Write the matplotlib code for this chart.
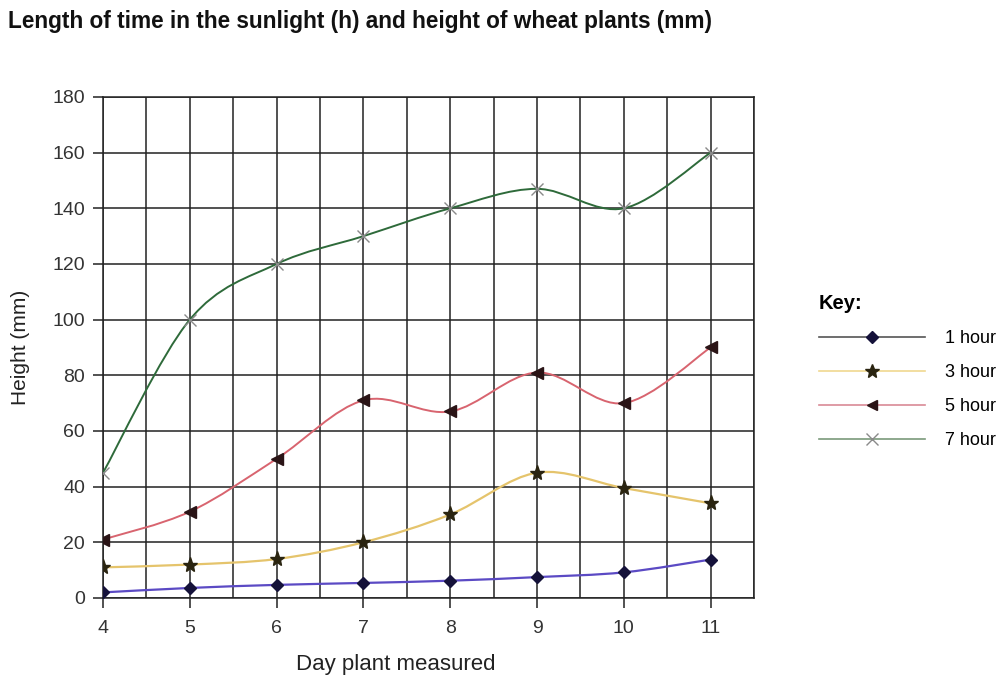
import numpy as np
import matplotlib
matplotlib.use('Agg')
import matplotlib.pyplot as plt
from matplotlib.path import Path
from matplotlib.patches import PathPatch
from matplotlib.lines import Line2D

plt.rcParams['font.family'] = ['Liberation Sans', 'DejaVu Sans']

days = [4, 5, 6, 7, 8, 9, 10, 11]
hour1 = [2, 3.6, 4.7, 5.4, 6.2, 7.5, 9.2, 13.8]
hour3 = [11, 12, 14, 20, 30, 45, 39.5, 34]
hour5 = [21, 31, 50, 71, 67, 81, 70, 90]
hour7 = [45, 100, 120, 130, 140, 147, 140, 160]
labels = ['1 hour', '3 hour', '5 hour', '7 hour']


def smooth_path(xs, ys):
    # Excel-like smoothed line: Catmull-Rom turned into cubic Bezier segments
    pts = np.column_stack([xs, ys]).astype(float)
    n = len(pts)
    verts = [pts[0]]
    codes = [Path.MOVETO]
    for i in range(n - 1):
        p0 = pts[i - 1] if i > 0 else pts[i]
        p1 = pts[i]
        p2 = pts[i + 1]
        p3 = pts[i + 2] if i + 2 < n else pts[i + 1]
        verts += [p1 + (p2 - p0) / 6, p2 - (p3 - p1) / 6, p2]
        codes += [Path.CURVE4] * 3
    return Path(verts, codes)


fig = plt.figure(figsize=(10.06, 6.83), dpi=100)
ax = fig.add_axes([0.1024, 0.1245, 0.6471, 0.7335])

series = [
    (hour1, '#5b4ac4', 'D', '#15123a', 6, 1.6),
    (hour3, '#e5c46c', '*', '#2a2410', 11, 1.6),
    (hour5, '#d8646f', '<', '#2a1416', 8, 1.4),
    (hour7, '#2e6a3a', 'x', '#8a8a8a', 9, 1.4),
]

for vals, col, mk, mcol, ms, lw in series:
    ax.add_patch(PathPatch(smooth_path(days, vals), fill=False,
                           edgecolor=col, lw=lw, zorder=3))
    ax.plot(days, vals, linestyle='none', marker=mk, color=mcol,
            markersize=ms, markeredgewidth=1.0, zorder=4)

ax.set_xlim(4, 11.5)
ax.set_ylim(0, 180)
ax.set_xticks(days)
ax.set_xticks(np.arange(4, 11.6, 0.5), minor=True)
ax.set_yticks(np.arange(0, 181, 20))
ax.grid(True, which='both', color='#222222', linewidth=1.1)
ax.tick_params(axis='both', which='major', direction='out', length=7,
               width=1.1, color='#222222', labelsize=14, labelcolor='#333333')
ax.tick_params(axis='x', which='major', pad=9)
ax.tick_params(axis='y', which='major', pad=6)
ax.tick_params(axis='x', which='minor', length=0)
for sp in ax.spines.values():
    sp.set_color('#222222')
    sp.set_linewidth(1.1)
ax.set_axisbelow(True)

ax.set_xlabel('Day plant measured', fontsize=16, color='#222222')
ax.set_ylabel('Height (mm)', fontsize=15, color='#222222')
ax.xaxis.set_label_coords(0.45, -0.112)
ax.yaxis.set_label_coords(-0.112, 0.5)

fig.text(0.008, 0.968, 'Length of time in the sunlight (h) and height of wheat plants (mm)',
         fontsize=16.3, fontweight='bold', ha='left', va='center', color='#111111')

handles = [
    Line2D([], [], color='#555555', lw=1.2, marker='D', markersize=6,
           markerfacecolor='#15123a', markeredgecolor='#15123a'),
    Line2D([], [], color='#f0d890', lw=1.2, marker='*', markersize=10,
           markerfacecolor='#2a2410', markeredgecolor='#2a2410'),
    Line2D([], [], color='#d98a96', lw=1.2, marker='<', markersize=7,
           markerfacecolor='#2a1416', markeredgecolor='#2a1416'),
    Line2D([], [], color='#7a9a7a', lw=1.2, marker='x', markersize=8,
           markerfacecolor='#8a8a8a', markeredgecolor='#8a8a8a'),
]
leg = fig.legend(handles, labels, loc='upper left', bbox_to_anchor=(0.805, 0.583),
                 frameon=False, fontsize=13, handlelength=5.9, handletextpad=1.1,
                 labelspacing=0.95, title='Key:', alignment='left', borderpad=0)
leg.get_title().set_fontweight('bold')
leg.get_title().set_fontsize(14.5)

fig.savefig('out.png', dpi=100, facecolor='white')
